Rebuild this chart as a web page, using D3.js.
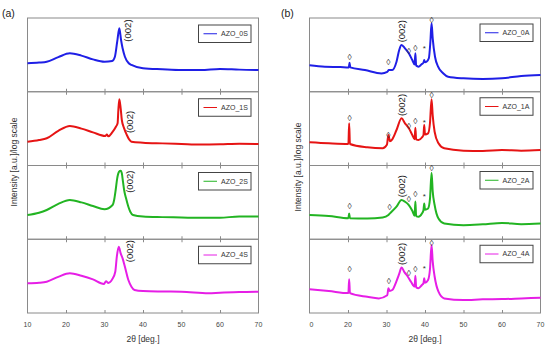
<!DOCTYPE html>
<html>
<head>
<meta charset="utf-8">
<script src="https://cdn.jsdelivr.net/npm/d3@7"></script>
<style>
  body { margin: 0; background: #fff; }
  text { font-family: "Liberation Sans", Arial, sans-serif; }
</style>
</head>
<body>
<svg id="chart" width="550" height="351"></svg>
<script>
// Data: [2theta (deg), intensity (a.u., log scale, relative per panel)]
var leftNames  = ["AZO_0S", "AZO_1S", "AZO_2S", "AZO_4S"];
var rightNames = ["AZO_0A", "AZO_1A", "AZO_2A", "AZO_4A"];
var colors     = ["#1f1fe6", "#e61414", "#22b422", "#e61ee6"];

var azo0S = [[10,38.6],[13,39.5],[15,40.7],[18,47],[21,52.1],[24,49],[27,43.9],[30,40.7],[32,41.7],[32.7,47.5],[33.3,67.9],[33.85,86],[34.3,70.2],[34.7,58.9],[35.3,47.5],[36.3,38.6],[37,36.3],[40,31.9],[45,30.5],[50,29.5],[55,29.5],[60,31],[65,30],[70,29.5]];
var azo1S = [[10,32.3],[13,34.5],[15,36.9],[18,47],[21,53.6],[24,50],[27,44.9],[30.2,40],[30.6,42],[31,39.5],[32,44.9],[33,52.9],[33.4,57.2],[33.6,75.3],[33.85,89.8],[34.2,77.6],[34.5,61.7],[35.1,50.4],[35.8,41.4],[36.5,34.6],[37,32.3],[40,30.9],[45,30],[50,29.2],[55,28.5],[60,28.8],[65,29.5],[70,29.2]];
var azo2S = [[10,32.9],[13,36],[15,39.7],[18,48],[21,53.2],[24,50],[27,45.1],[30,40.7],[32.1,46.4],[32.5,53.2],[32.9,66.8],[33.3,82.6],[33.8,91.6],[34.2,93],[34.5,89.4],[34.8,78],[35.1,66.8],[35.6,55.5],[36.2,44.1],[36.7,37.3],[37.4,32.9],[40,30.8],[45,30],[50,29.5],[55,29],[60,29.2],[65,30.8],[70,30.8]];
var azo4S = [[10,40.2],[13,41],[15,42.5],[18,49],[21,53.8],[24,50.5],[27,45.6],[29.8,39.3],[30.4,43],[31,40.7],[32,45.6],[32.8,56],[33.2,76.3],[33.7,90],[34.2,80.9],[34.7,74.1],[35.3,62.8],[36.2,44.7],[37,35.7],[37.8,31.2],[40,29.8],[45,29.2],[50,28.9],[57,26.7],[60,27.6],[65,28.5],[70,28.9]];

var azo0A = [[10,36],[14,34],[18,33.5],[20.2,33],[20.4,39.3],[20.6,33],[24.4,29.5],[28.7,24.9],[30.2,27],[30.6,29.5],[31.5,29.5],[32.6,40.7],[33.3,56.6],[33.9,63.4],[34.8,58.9],[35.8,52.1],[36.7,43],[37.3,37],[37.5,52.1],[37.7,35.5],[38.3,34],[39.1,37.2],[39.6,39.5],[39.8,43],[40.0,40],[40.4,40.7],[41,45.4],[41.4,67.9],[41.7,92.8],[42,72.4],[42.6,47.5],[43.4,34],[44.7,25],[46,20.4],[50,18.2],[55,17.3],[60,18.2],[65,21.4],[70,22.7]];
var azo1A = [[10,31.5],[15,30.1],[20.1,29.2],[20.3,57.2],[20.5,29.2],[25,24.7],[29,23.3],[30.1,28],[30.5,41.4],[30.9,33],[31.5,35.5],[32.6,48.1],[33.9,64],[34.8,57.2],[35.8,50.4],[36.7,41.4],[37.3,35.5],[37.5,51.3],[37.7,35.5],[38.3,34.6],[39.2,38],[39.6,41.4],[39.8,55],[40.0,42],[40.8,43.6],[41.3,58],[41.7,89.8],[42.0,68],[42.5,45.8],[43.5,30.1],[45,23.3],[50,20.1],[55,19.7],[60,21],[65,20.1],[70,21]];
var azo2A = [[10,32.9],[15,31.5],[20.1,28.5],[20.3,35],[20.5,28.5],[25,28.1],[29,29.5],[30.5,33],[30.9,35.1],[32.6,44.1],[33.9,53.2],[34.8,50.9],[35.8,46.4],[36.7,38.7],[37.3,32],[37.5,51.2],[37.7,31.5],[38.3,30.6],[39.2,35],[39.6,39.4],[39.8,48.5],[40.0,40],[40.8,41.7],[41.3,55],[41.7,90.2],[42.0,65],[42.5,46.4],[43.5,28.1],[45,21.4],[50,19.1],[55,20.3],[60,22.2],[65,20.5],[70,21.4]];
var azo4A = [[10,32.2],[15,29.8],[20.1,27],[20.3,45.8],[20.5,27],[25,22],[28,19.8],[30.2,24],[30.5,33.6],[30.8,30],[31.5,31.2],[32.5,42],[33.3,53],[33.9,61.7],[34.7,55],[35.5,49.5],[36.4,42],[37.1,36.5],[37.3,35.9],[37.5,50.5],[37.7,35],[38.3,33.6],[39.2,38],[39.6,40.3],[39.8,47.2],[40.0,41],[40.8,44.7],[41.3,60],[41.7,92.2],[42.0,70],[42.5,49.5],[43.5,28.9],[45,19.8],[50,17.6],[55,18.5],[60,18.9],[65,19.8],[70,20.7]];

var leftData  = [azo0S, azo1S, azo2S, azo4S];
var rightData = [azo0A, azo1A, azo2A, azo4A];

// (002) label positions [2theta, intensity] per panel
var leftPeakLabels  = [[36.2,83], [36.5,59], [36.5,78], [36.7,84]];
var rightPeakLabels = [[33.9,82], [33.9,82], [33.9,72], [33.9,80]];

// Phase markers per right panel: [2theta, intensity, symbol]
var rightMarkers = [
  [[20.4,47.5,"\u25CA"],[30.5,40.7,"\u25CA"],[35.8,55.7,"\u25CA"],[37.5,59.7,"\u25CA"],[39.8,59.7,"*"],[41.7,97.3,"\u25CA"]],
  [[20.4,64.8,"\u25CA"],[30.5,41.4,"\u25CA"],[35.8,53.6,"\u25CA"],[37.5,60.3,"\u25CA"],[39.8,59.4,"*"],[41.7,95.6,"\u25CA"]],
  [[20.4,45.1,"\u25CA"],[30.8,44.1,"\u25CA"],[35.8,54.2,"\u25CA"],[37.5,61.4,"\u25CA"],[39.8,58.6,"*"],[41.7,96.2,"\u25CA"]],
  [[20.4,59.3,"\u25CA"],[30.6,43.4,"\u25CA"],[35.8,54.6,"\u25CA"],[37.5,59.3,"\u25CA"],[39.8,60.6,"*"],[41.7,95.3,"\u25CA"]]
];

// Axis ticks
var tickValues      = [10, 20, 30, 40, 50, 60, 70];
var leftTickLabels  = ["10", "20", "30", "40", "50", "60", "70"];
var rightTickLabels = ["0", "20", "30", "40", "50", "60", "70"];

// Layout
var svg = d3.select("#chart");
var top0 = 18, panelH = 73.75, nPanels = 4;
var frameColor = "#8a8a8a";

var line = function(x, y) {
  return d3.line()
    .x(function(d) { return x(d[0]); })
    .y(function(d) { return y(d[1]); })
    .curve(d3.curveMonotoneX);
};

// Draw one column of stacked panels
var drawColumn = function(opts) {
  var x = d3.scaleLinear().domain([10, 70]).range([opts.x0, opts.x1]);
  var g = svg.append("g");

  opts.data.forEach(function(series, i) {
    var pTop = top0 + i * panelH;
    var pBot = pTop + panelH;
    var y = d3.scaleLinear().domain([0, 100]).range([pBot, pTop]);

    // Frame
    g.append("rect")
      .attr("x", opts.x0).attr("y", pTop)
      .attr("width", opts.x1 - opts.x0).attr("height", panelH)
      .attr("fill", "none").attr("stroke", frameColor).attr("stroke-width", 1);

    // Ticks at panel bottom
    var axis = d3.axisBottom(x).tickValues(tickValues.slice(1, -1)).tickSize(0).tickFormat("");
    var ag = g.append("g").attr("transform", "translate(0," + pBot + ")").call(axis);
    ag.select(".domain").remove();
    ag.selectAll(".tick").append("line")
      .attr("y1", -3).attr("y2", i < nPanels - 1 ? 3 : 0)
      .attr("stroke", frameColor);

    // Curve
    g.append("path")
      .datum(series)
      .attr("d", line(x, y))
      .attr("fill", "none")
      .attr("stroke", colors[i])
      .attr("stroke-width", 2)
      .attr("stroke-linejoin", "round");

    // (002) label
    var pl = opts.peakLabels[i];
    g.append("text")
      .attr("transform", "translate(" + (x(pl[0]) + 3) + "," + y(pl[1]) + ") rotate(-90)")
      .attr("text-anchor", "middle")
      .attr("font-size", 9.5)
      .attr("fill", "#222")
      .text("(002)");

    // Phase markers
    if (opts.markers) {
      g.selectAll(null).data(opts.markers[i]).enter().append("text")
        .attr("x", function(d) { return x(d[0]); })
        .attr("y", function(d) { return y(d[1]) + 3; })
        .attr("text-anchor", "middle")
        .attr("font-family", "DejaVu Sans")
        .attr("font-size", function(d) { return d[2] == "*" ? 8 : 8.5; })
        .attr("fill", "#333")
        .text(function(d) { return d[2]; });
    }

    // Legend
    var lx = opts.legendX, ly = pTop + opts.legendDy;
    g.append("rect")
      .attr("x", lx).attr("y", ly).attr("width", opts.legendW).attr("height", 17.5)
      .attr("fill", "#fff").attr("stroke", "#444").attr("stroke-width", 1);
    g.append("line")
      .attr("x1", lx + 5).attr("x2", lx + 18.5)
      .attr("y1", ly + 8.75).attr("y2", ly + 8.75)
      .attr("stroke", colors[i]).attr("stroke-width", 1);
    g.append("text")
      .attr("x", lx + 22.5).attr("y", ly + 11.2)
      .attr("font-size", 7).attr("fill", "#333")
      .text(opts.names[i]);
  });

  // Bottom tick labels
  var bottom = top0 + nPanels * panelH;
  g.selectAll(null).data(tickValues).enter().append("text")
    .attr("x", function(d, k) { return x(d) + (opts.tickLabels[k].length == 1 ? 2 : 0); })
    .attr("y", bottom + 13.5)
    .attr("text-anchor", "middle")
    .attr("font-size", 7).attr("fill", "#444")
    .text(function(d, k) { return opts.tickLabels[k]; });

  // X title
  g.append("text")
    .attr("x", (opts.x0 + opts.x1) / 2).attr("y", bottom + 29)
    .attr("text-anchor", "middle").attr("font-size", 8.5).attr("fill", "#333")
    .text("2\u03B8 [deg.]");

  // Y title
  g.append("text")
    .attr("transform", "translate(" + opts.yLabelX + "," + opts.yLabelY + ") rotate(-90)")
    .attr("text-anchor", "middle").attr("font-size", 8.5).attr("fill", "#333")
    .text("Intensity [a.u.]/log scale");

  // Panel letter
  g.append("text")
    .attr("x", opts.letterX).attr("y", 16.5)
    .attr("font-size", 10.5).attr("fill", "#222")
    .text(opts.letter);
};

drawColumn({
  x0: 27.5, x1: 258.5, data: leftData, names: leftNames,
  peakLabels: leftPeakLabels, markers: null, tickLabels: leftTickLabels,
  legendX: 198.5, legendW: 52.5, legendDy: 7,
  yLabelX: 17, yLabelY: 162, letter: "(a)", letterX: 2
});

drawColumn({
  x0: 309.5, x1: 540.5, data: rightData, names: rightNames,
  peakLabels: rightPeakLabels, markers: rightMarkers, tickLabels: rightTickLabels,
  legendX: 480, legendW: 53, legendDy: 6,
  yLabelX: 301, yLabelY: 167, letter: "(b)", letterX: 281
});
</script>
</body>
</html>
